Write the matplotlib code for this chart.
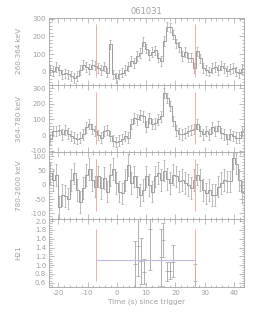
import numpy as np
import matplotlib
matplotlib.use('Agg')
import matplotlib.pyplot as plt
from matplotlib.ticker import MultipleLocator

# light curve bins (s since trigger)
t_start = -23.2
bin_w = 1.024

band1 = [10, 5, 25, 10, -15, -10, -15, -25, -35, -25, 10, 40, 25, 15, 40, 35,
         20, 10, 30, -5, 155, -15, -35, -15, -5, 10, 30, 60, 50, 90, 105, 170,
         130, 95, 110, 120, 80, 60, 175, 255, 250, 210, 160, 140, 90, 110, 80, 80,
         20, 115, 75, 20, 10, 0, 20, 25, 10, 35, 20, 5, 15, 20, 0, -10, 15]
band2 = [-25, 25, 25, 35, 5, 35, 10, -5, -15, -25, -15, 5, 50, 70, 40, 25,
         0, -15, 25, 35, -5, -35, -45, -35, -25, -5, -15, 70, 110, 100, 130, 120,
         55, 110, 70, 75, 100, 120, 270, 235, 185, 90, 30, 10, 5, 15, 25, 35,
         40, 70, 25, 5, 25, 5, 50, 25, 60, 15, 5, -25, 5, -5, -15, -15, 25]
band3 = [40, 18, 35, -78, -35, -40, -48, 18, 40, -18, -60, -12, 35, 55, 18, -6,
         30, -12, 25, -24, 35, 55, 6, -24, -30, 18, 70, 6, 30, -6, -35, -18,
         30, 0, -24, 30, 42, 18, 50, 20, 6, 36, 30, 12, 18, 6, 0, -12,
         18, 36, 18, -18, -30, -18, -35, -35, -6, 6, 18, 12, 12, 95, 75, 18, -25]
err1 = 27
err2 = 33
err3 = 38

# hardness ratio
h_t = [6.1, 7.05, 8.1, 9.1, 11.3, 14.9, 15.9, 17.0, 18.1, 19.1, 26.7]
h_val = [1.03, 1.43, 1.10, 0.85, 1.83, 1.18, 1.58, 0.86, 0.86, 1.08, 0.64]
h_hi = [1.56, 2.30, 1.62, 1.14, 2.30, 1.82, 1.95, 1.07, 1.07, 1.45, 1.03]
h_lo = [0.45, 0.76, 0.57, 0.57, 0.88, 0.53, 1.18, 0.65, 0.68, 0.72, 0.30]
h_mean = 1.125

t_red = [-7.2, 26.7]
labels = ['260-364 keV', '364-780 keV', '780-2600 keV', 'H21']
ylims = [(-75, 305), (-108, 320), (-120, 115), (0.5, 2.05)]
yticks = [[0, 100, 200, 300], [-100, 0, 100, 200, 300],
          [-100, -50, 0, 50, 100], [0.6, 0.8, 1.0, 1.2, 1.4, 1.6, 1.8, 2.0]]
yminor = [20, 20, 10, 0.05]
ytl = [None, None, None, ['0.6', '0.8', '1.0', '1.2', '1.4', '1.6', '1.8', '2.0']]

gray = '#a2a2a2'
line = '#8e8e8e'
txt = '#a0a0a0'
red = '#f4a0a0'
blue = '#bcbcec'

plt.rcParams['font.family'] = 'DejaVu Sans'
plt.rcParams['axes.unicode_minus'] = False

fig = plt.figure(figsize=(2.69, 3.23), dpi=100)
bottoms = [0.737, 0.529, 0.322, 0.111]
heights = [0.208, 0.208, 0.207, 0.211]

edges = t_start + bin_w * np.arange(len(band1) + 1)
centers = edges[:-1] + bin_w / 2

axes = []
for k in range(4):
    ax = fig.add_axes([0.182, bottoms[k], 0.725, heights[k]])
    axes.append(ax)
    if k < 3:
        vals = [band1, band2, band3][k]
        e = [err1, err2, err3][k]
        ax.stairs(vals, edges, color=line, lw=0.6)
        ax.errorbar(centers, vals, yerr=e, fmt='none', ecolor=gray, elinewidth=0.5,
                    capsize=0.8, capthick=0.5)
        lo, hi = ylims[k]
        rng = hi - lo
        ax.vlines(t_red, lo + 0.12 * rng, hi - 0.1 * rng, color=red, lw=0.6)
    else:
        h_val_a = np.array(h_val)
        ax.errorbar(h_t, h_val, yerr=[h_val_a - np.array(h_lo), np.array(h_hi) - h_val_a],
                    fmt='none', ecolor=gray, elinewidth=0.6, capsize=1.2, capthick=0.5)
        ax.plot(h_t, h_val, ls='none', marker='_', ms=2.5, color=gray, mew=0.5)
        ax.hlines(h_mean, t_red[0], t_red[1], color=blue, lw=0.8)
        ax.vlines(t_red, 0.645, 1.83, color=red, lw=0.6)

    ax.set_xlim(-23.2, 43.4)
    ax.set_ylim(*ylims[k])
    ax.set_yticks(yticks[k])
    if ytl[k] is not None:
        ax.set_yticklabels(ytl[k])
    ax.xaxis.set_major_locator(MultipleLocator(10))
    ax.xaxis.set_minor_locator(MultipleLocator(2))
    ax.yaxis.set_minor_locator(MultipleLocator(yminor[k]))
    ax.tick_params(which='both', direction='in', top=True, right=True,
                   colors=gray, labelcolor=txt, width=0.5, labelsize=5, pad=2)
    ax.tick_params(which='major', length=3.5)
    ax.tick_params(which='minor', length=1.8)
    for s in ax.spines.values():
        s.set_color(gray)
        s.set_linewidth(0.6)
    ax.set_ylabel(labels[k], color=txt, fontsize=5.2)
    ax.yaxis.set_label_coords(-0.14, 0.5)
    if k < 3:
        ax.tick_params(labelbottom=False)

axes[0].set_title('061031', color=txt, fontsize=6, pad=2.5)
axes[3].set_xlabel('Time (s) since trigger', color=txt, fontsize=5.2, labelpad=2)

fig.savefig('out.png', dpi=100)
